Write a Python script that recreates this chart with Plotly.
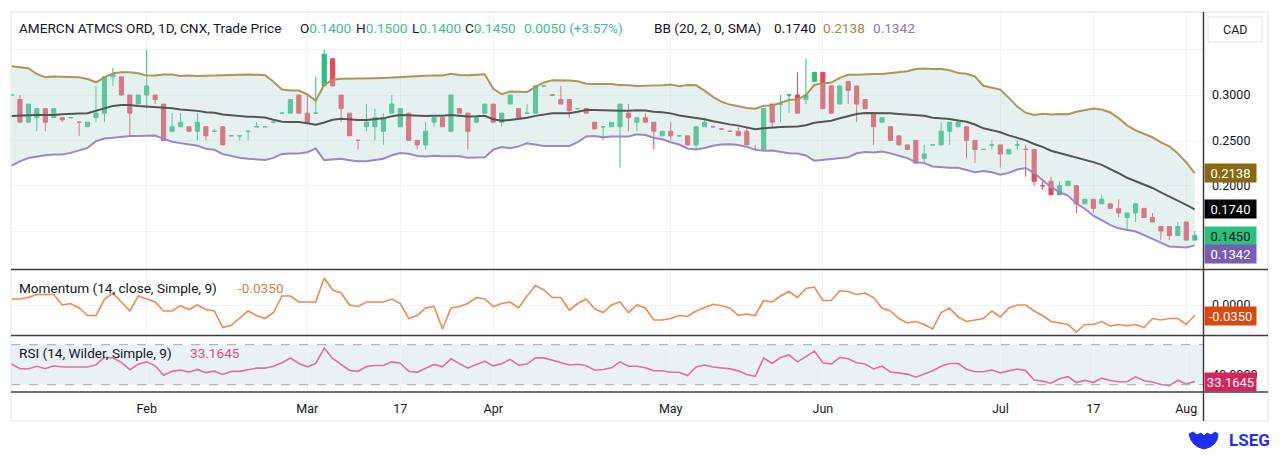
import numpy as np
import pandas as pd
import plotly.graph_objects as go

# ---------------- data ----------------
open_ = [0.30, 0.295, 0.27, 0.275, 0.285, 0.275, 0.275, 0.275, 0.27, 0.265,
         0.275, 0.28, 0.32, 0.32, 0.30, 0.29, 0.30, 0.30, 0.29, 0.26,
         0.265, 0.265, 0.26, 0.265, 0.26, 0.265, 0.255, 0.255, 0.26, 0.265,
         0.265, 0.27, 0.28, 0.28, 0.30, 0.28, 0.28, 0.31, 0.34, 0.30,
         0.28, 0.25, 0.265, 0.265, 0.26, 0.28, 0.265, 0.28, 0.25, 0.245,
         0.27, 0.275, 0.26, 0.285, 0.28, 0.27, 0.28, 0.29, 0.27, 0.29,
         0.285, 0.28, 0.28, 0.31, 0.30, 0.295, 0.295, 0.285, 0.285, 0.27,
         0.265, 0.265, 0.265, 0.28, 0.27, 0.275, 0.27, 0.255, 0.26, 0.255,
         0.255, 0.245, 0.265, 0.265, 0.2625, 0.26, 0.26, 0.26, 0.24, 0.24,
         0.29, 0.29, 0.30, 0.30, 0.295, 0.315, 0.325, 0.31, 0.29, 0.315,
         0.31, 0.295, 0.28, 0.27, 0.265, 0.255, 0.245, 0.25, 0.23, 0.245,
         0.245, 0.26, 0.265, 0.265, 0.25, 0.24, 0.245, 0.245, 0.235, 0.245,
         0.24, 0.24, 0.20, 0.205, 0.19, 0.20, 0.20, 0.18, 0.185, 0.18,
         0.18, 0.175, 0.165, 0.17, 0.175, 0.165, 0.155, 0.155, 0.145, 0.16,
         0.14]
high = [0.30, 0.30, 0.29, 0.285, 0.285, 0.285, 0.275, 0.275, 0.27, 0.27,
        0.31, 0.32, 0.33, 0.32, 0.30, 0.30, 0.35, 0.30, 0.29, 0.28,
        0.28, 0.265, 0.28, 0.265, 0.2625, 0.265, 0.255, 0.255, 0.26, 0.27,
        0.265, 0.27, 0.28, 0.295, 0.30, 0.30, 0.32, 0.35, 0.34, 0.30,
        0.28, 0.25, 0.29, 0.285, 0.28, 0.30, 0.285, 0.28, 0.25, 0.27,
        0.275, 0.275, 0.30, 0.285, 0.28, 0.275, 0.29, 0.29, 0.28, 0.30,
        0.285, 0.29, 0.31, 0.31, 0.30, 0.31, 0.295, 0.285, 0.285, 0.27,
        0.265, 0.27, 0.29, 0.29, 0.275, 0.28, 0.27, 0.26, 0.27, 0.255,
        0.255, 0.265, 0.275, 0.265, 0.2625, 0.26, 0.265, 0.265, 0.245, 0.285,
        0.29, 0.30, 0.30, 0.325, 0.34, 0.325, 0.325, 0.31, 0.31, 0.315,
        0.31, 0.295, 0.28, 0.275, 0.265, 0.255, 0.245, 0.25, 0.245, 0.245,
        0.27, 0.27, 0.27, 0.265, 0.25, 0.24, 0.25, 0.245, 0.24, 0.25,
        0.245, 0.24, 0.205, 0.21, 0.205, 0.205, 0.20, 0.185, 0.185, 0.19,
        0.18, 0.185, 0.17, 0.18, 0.175, 0.17, 0.155, 0.155, 0.16, 0.16,
        0.15]
low = [0.30, 0.27, 0.27, 0.26, 0.26, 0.275, 0.27, 0.275, 0.255, 0.265,
       0.27, 0.27, 0.31, 0.30, 0.255, 0.29, 0.285, 0.29, 0.25, 0.26,
       0.265, 0.26, 0.25, 0.25, 0.26, 0.245, 0.255, 0.25, 0.25, 0.265,
       0.265, 0.27, 0.28, 0.28, 0.28, 0.27, 0.28, 0.31, 0.31, 0.27,
       0.255, 0.24, 0.26, 0.25, 0.245, 0.28, 0.265, 0.25, 0.24, 0.24,
       0.265, 0.265, 0.26, 0.28, 0.24, 0.27, 0.28, 0.27, 0.265, 0.29,
       0.275, 0.28, 0.28, 0.31, 0.30, 0.29, 0.275, 0.285, 0.28, 0.2625,
       0.25, 0.265, 0.22, 0.26, 0.26, 0.27, 0.24, 0.255, 0.25, 0.255,
       0.245, 0.24, 0.265, 0.265, 0.2625, 0.26, 0.255, 0.245, 0.24, 0.24,
       0.265, 0.27, 0.28, 0.28, 0.29, 0.315, 0.285, 0.28, 0.29, 0.29,
       0.27, 0.285, 0.245, 0.27, 0.25, 0.245, 0.24, 0.225, 0.225, 0.245,
       0.245, 0.245, 0.265, 0.23, 0.225, 0.24, 0.24, 0.22, 0.235, 0.24,
       0.21, 0.20, 0.195, 0.19, 0.19, 0.20, 0.17, 0.18, 0.17, 0.18,
       0.175, 0.165, 0.15, 0.16, 0.165, 0.16, 0.14, 0.14, 0.145, 0.14,
       0.14]
close = [0.30, 0.27, 0.29, 0.285, 0.27, 0.285, 0.2725, 0.275, 0.27, 0.27,
         0.28, 0.32, 0.3225, 0.30, 0.28, 0.30, 0.31, 0.295, 0.25, 0.265,
         0.27, 0.26, 0.27, 0.255, 0.26, 0.245, 0.255, 0.255, 0.26, 0.265,
         0.265, 0.27, 0.28, 0.295, 0.28, 0.27, 0.28, 0.345, 0.31, 0.285,
         0.255, 0.25, 0.27, 0.275, 0.275, 0.29, 0.285, 0.25, 0.245, 0.26,
         0.275, 0.265, 0.30, 0.28, 0.26, 0.275, 0.29, 0.27, 0.28, 0.30,
         0.275, 0.28, 0.31, 0.31, 0.30, 0.29, 0.2825, 0.285, 0.28, 0.2625,
         0.265, 0.27, 0.29, 0.275, 0.275, 0.27, 0.26, 0.26, 0.255, 0.255,
         0.245, 0.265, 0.27, 0.265, 0.2625, 0.26, 0.255, 0.245, 0.24, 0.285,
         0.27, 0.29, 0.30, 0.28, 0.30, 0.325, 0.285, 0.28, 0.31, 0.305,
         0.29, 0.285, 0.265, 0.275, 0.25, 0.245, 0.24, 0.225, 0.235, 0.245,
         0.26, 0.27, 0.27, 0.25, 0.24, 0.24, 0.245, 0.235, 0.24, 0.245,
         0.24, 0.205, 0.20, 0.19, 0.20, 0.205, 0.18, 0.185, 0.175, 0.185,
         0.175, 0.17, 0.17, 0.18, 0.165, 0.16, 0.15, 0.145, 0.155, 0.14,
         0.145]

# indicator values at the left edge (history before the first visible bar)
bb_upper_head = [0.3317, 0.3306, 0.3295, 0.3232, 0.3195, 0.3203, 0.3203, 0.3203, 0.3195, 0.3177,
                 0.3140, 0.3195, 0.3240, 0.3251, 0.3251, 0.3240, 0.3214, 0.3214, 0.3225]
bb_basis_head = [0.2769, 0.2777, 0.2777, 0.2780, 0.2777, 0.2780, 0.2788, 0.2788, 0.2795, 0.2799,
                 0.2825, 0.2854, 0.2880, 0.2891, 0.2891, 0.2880, 0.2873, 0.2873, 0.2862]
bb_lower_head = [0.2221, 0.2269, 0.2306, 0.2325, 0.2336, 0.2343, 0.2343, 0.2362, 0.2388, 0.2417,
                 0.2491, 0.2521, 0.2529, 0.2540, 0.2547, 0.2547, 0.2554, 0.2554, 0.2517]
mom_head = [0.02, 0.02, 0.025, 0.035, 0.035, 0.035, 0.0, 0.005, -0.01, -0.035,
            -0.035, 0.02, 0.04, 0.01]
rsi_head = [50.7, 46.0, 46.0, 48.4, 46.0, 49.0, 47.7, 47.7, 47.7, 47.7,
            50.0, 57.4, 56.7, 52.4]

tick_pos = [16, 35, 46, 57, 78, 96, 117, 128, 139]
tick_text = ["Feb", "Mar", "17", "Apr", "May", "Jun", "Jul", "17", "Aug"]

last_vals = {"basis": "0.1740", "upper": "0.2138", "lower": "0.1342",
             "close": "0.1450", "mom": "-0.0350", "rsi": "33.1645"}

# ---------------- indicators ----------------
n = len(close)
x = np.arange(n)
c = pd.Series(close, dtype=float)
basis = c.rolling(20).mean().to_numpy()
sd = c.rolling(20).std(ddof=0).to_numpy()
upper = basis + 2 * sd
lower = basis - 2 * sd
basis[:19] = bb_basis_head
upper[:19] = bb_upper_head
lower[:19] = bb_lower_head

mom = (c - c.shift(14)).to_numpy()
mom[:14] = mom_head

d = c.diff().to_numpy()
gain = np.where(d > 0, d, 0.0)
loss = np.where(d < 0, -d, 0.0)
rsi = np.full(n, np.nan)
ag = gain[1:15].mean()
al = loss[1:15].mean()
rsi[14] = 100 - 100 / (1 + ag / al) if al > 0 else 100
for i in range(15, n):
    ag = (ag * 13 + gain[i]) / 14
    al = (al * 13 + loss[i]) / 14
    rsi[i] = 100 - 100 / (1 + ag / al) if al > 0 else 100
rsi[:14] = rsi_head

# candle direction (doji -> compare with previous close)
is_up = []
for i in range(n):
    if close[i] > open_[i]:
        is_up.append(True)
    elif close[i] < open_[i]:
        is_up.append(False)
    else:
        is_up.append(i == 0 or close[i] >= close[i - 1])
gi = [i for i in range(n) if is_up[i]]
ri = [i for i in range(n) if not is_up[i]]

# ---------------- geometry helpers ----------------
W, H = 1280, 455
PL, PR, PT, PB = 11, 1203, 13, 392


def px(v):
    return (v - PL) / (PR - PL)


def py(v):
    return (PB - v) / (PB - PT)


GREEN = "#2dbd80"
RED = "#e9465c"
GOLD = "#ae9558"
PURPLE = "#9b88c9"
TXT = "#131722"
GRID = "#f0f3fa"
FONT = "Roboto"

fig = go.Figure()

# Bollinger bands
fig.add_trace(go.Scatter(x=x, y=upper, mode="lines", line=dict(color=GOLD, width=2),
                         hoverinfo="skip", xaxis="x", yaxis="y"))
fig.add_trace(go.Scatter(x=x, y=lower, mode="lines", line=dict(color=PURPLE, width=2),
                         fill="tonexty", fillcolor="rgba(180,214,210,0.35)",
                         hoverinfo="skip", xaxis="x", yaxis="y"))
fig.add_trace(go.Scatter(x=x, y=basis, mode="lines", line=dict(color="#555555", width=2),
                         hoverinfo="skip", xaxis="x", yaxis="y"))

# candles
for idx, col in ((gi, GREEN), (ri, RED)):
    fig.add_trace(go.Candlestick(
        x=[x[i] for i in idx], open=[open_[i] for i in idx], high=[high[i] for i in idx],
        low=[low[i] for i in idx], close=[close[i] for i in idx],
        increasing=dict(line=dict(color=col, width=1), fillcolor=col),
        decreasing=dict(line=dict(color=col, width=1), fillcolor=col),
        whiskerwidth=0, hoverinfo="skip", xaxis="x", yaxis="y"))

# momentum
fig.add_trace(go.Scatter(x=x, y=mom, mode="lines", line=dict(color="#ee8a50", width=1.6),
                         hoverinfo="skip", xaxis="x2", yaxis="y2"))
# RSI
fig.add_trace(go.Scatter(x=x, y=rsi, mode="lines", line=dict(color="#e56f98", width=1.6),
                         hoverinfo="skip", xaxis="x3", yaxis="y3"))

xr = [-0.059, 140.98]
xcommon = dict(range=xr, showgrid=True, gridcolor=GRID, gridwidth=1, tickvals=tick_pos,
               ticktext=tick_text, zeroline=False, showline=False, fixedrange=True)

fig.update_layout(
    width=W, height=H,
    margin=dict(l=PL, r=W - PR, t=PT, b=H - PB),
    paper_bgcolor="white", plot_bgcolor="white",
    showlegend=False,
    font=dict(family=FONT, size=12, color=TXT),
    xaxis=dict(**xcommon, anchor="y", showticklabels=False, rangeslider=dict(visible=False)),
    xaxis2=dict(**xcommon, anchor="y2", showticklabels=False, matches="x"),
    xaxis3=dict(**xcommon, anchor="y3", showticklabels=True, matches="x",
                tickfont=dict(size=12.5, color=TXT), ticks="", ticklabelstandoff=7),
    yaxis=dict(domain=[py(269), 1], range=[0.10816, 0.39041], side="right",
               tickvals=[0.15, 0.20, 0.25, 0.30, 0.35],
               ticktext=["", "0.2000", "0.2500", "0.3000", ""],
               showgrid=True, gridcolor=GRID, zeroline=False, ticks="",
               ticklabelstandoff=8, tickfont=dict(size=12.5, color=TXT)),
    yaxis2=dict(domain=[py(335), py(270)], range=[-0.1, 0.1167], side="right",
                tickvals=[0.0], ticktext=["0.0000"], showgrid=True, gridcolor=GRID,
                zeroline=False, ticks="", ticklabelstandoff=8, tickfont=dict(size=12.5, color=TXT)),
    yaxis3=dict(domain=[0, py(336)], range=[22.7, 78.7], side="right",
                tickvals=[40], ticktext=["40.0000"], showgrid=False,
                zeroline=False, ticks="", ticklabelstandoff=8, tickfont=dict(size=12.5, color=TXT)),
)

shapes = []
# RSI band
shapes.append(dict(type="rect", xref="paper", yref="y3", x0=0, x1=1, y0=30, y1=70,
                   fillcolor="rgba(120,160,200,0.16)", line=dict(width=0), layer="below"))
for lv in (30, 70):
    shapes.append(dict(type="line", xref="paper", yref="y3", x0=0, x1=1, y0=lv, y1=lv,
                       line=dict(color="#a3a6af", width=1, dash="dash"), layer="above"))
# outer frame
shapes.append(dict(type="rect", xref="paper", yref="paper", x0=px(11), x1=px(1268),
                   y0=py(421), y1=py(12), line=dict(color="#e0e3eb", width=1), layer="above"))
# pane separators
for yy in (269.5, 335.5, 392):
    shapes.append(dict(type="line", xref="paper", yref="paper", x0=px(11), x1=px(1268),
                       y0=py(yy), y1=py(yy), line=dict(color="#3d3f47", width=1.5)))
# price-scale border
shapes.append(dict(type="line", xref="paper", yref="paper", x0=px(1203.5), x1=px(1203.5),
                   y0=py(12), y1=py(421), line=dict(color="#3d3f47", width=1.5)))
# CAD box
shapes.append(dict(type="rect", xref="paper", yref="paper", x0=px(1208), x1=px(1262),
                   y0=py(42), y1=py(17), fillcolor="white", line=dict(color="#e0e3eb", width=1)))
# LSEG emblem (simple crest outline)
ex, ey = 1189, 432
crest = [(0, 2), (4, 0), (8, 3), (12, 1), (15, 4), (18, 1), (22, 3), (26, 0), (29, 2),
         (28, 8), (25, 12), (21, 15), (15, 17), (9, 15), (5, 12), (2, 8)]
path = "M " + " L ".join(f"{px(ex + a):.5f},{py(ey + b):.5f}" for a, b in crest) + " Z"
shapes.append(dict(type="path", xref="paper", yref="paper", path=path,
                   fillcolor="#1e2df5", line=dict(color="#1e2df5", width=1)))
fig.update_layout(shapes=shapes)

ann = []


def text(xp, yp, s, size=13.6, color=TXT, anchor="left", **kw):
    ann.append(dict(x=px(xp), y=py(yp), xref="paper", yref="paper", text=s, showarrow=False,
                    xanchor=anchor, yanchor="middle", font=dict(size=size, color=color, family=FONT), **kw))


HG = "#3cbf8c"
text(17, 28, "AMERCN ATMCS ORD, 1D, CNX, Trade Price")
text(298, 28, f"O<span style='color:{HG}'>0.1400</span>")
text(354, 28, f"H<span style='color:{HG}'>0.1500</span>")
text(410, 28, f"L<span style='color:{HG}'>0.1400</span>")
text(463, 28, f"C<span style='color:{HG}'>0.1450</span>")
text(522, 28, "0.0050 (+3.57%)", color=HG)
text(652, 28, "BB (20, 2, 0, SMA)")
text(772, 28, last_vals["basis"])
text(821, 28, last_vals["upper"], color="#a08a45")
text(871, 28, last_vals["lower"], color="#8a76c0")
text(17, 288, "Momentum (14, close, Simple, 9)")
text(236, 288, last_vals["mom"], color="#e07b3c")
text(17, 353, "RSI (14, Wilder, Simple, 9)")
text(188, 353, last_vals["rsi"], color="#e0507f")
text(1249, 440, "<b>LSEG</b>", size=17, color="#1e2df5", anchor="center")
text(1235, 29.5, "CAD", size=12.5, anchor="center")


def badge(yref, yval, s, bg, fg="white", yshift=0):
    ann.append(dict(x=px(1204), y=yval, xref="paper", yref=yref, text=s, showarrow=False,
                    xanchor="left", yanchor="middle", yshift=yshift,
                    font=dict(size=13, color=fg, family=FONT), bgcolor=bg, borderpad=1.5, width=48))


badge("y", 0.2138, last_vals["upper"], "#87690f")
badge("y", 0.1740, last_vals["basis"], "#000000")
badge("y", 0.1450, last_vals["close"], "#2cc07f", fg="#131722")
badge("y", 0.1342, last_vals["lower"], "#7a5bb5", yshift=-9)
badge("y2", -0.035, last_vals["mom"], "#d9480f")
badge("y3", 33.1645, last_vals["rsi"], "#d6245c")

fig.update_layout(annotations=ann)
fig.write_html("out.html", config=dict(displayModeBar=False),
               post_script="document.body.style.margin='0';document.body.style.overflow='hidden';")
